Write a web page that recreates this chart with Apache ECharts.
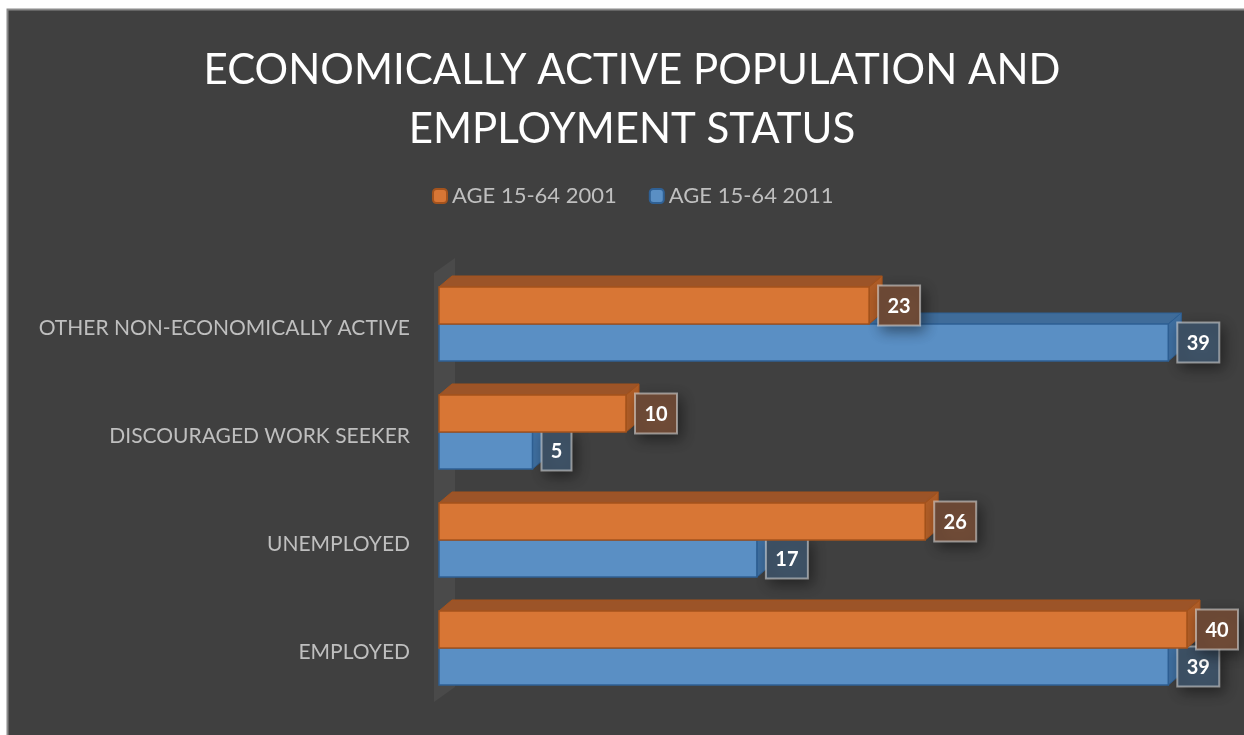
<!DOCTYPE html>
<html><head><meta charset="utf-8">
<script src="https://cdn.jsdelivr.net/npm/echarts@6/dist/echarts.min.js"></script>
<style>html,body{margin:0;padding:0;background:#fff}#c{width:1244px;height:735px}</style>
</head><body><div id="c"></div>
<script>
const categories = ['EMPLOYED', 'UNEMPLOYED', 'DISCOURAGED WORK SEEKER', 'OTHER NON-ECONOMICALLY ACTIVE'];
const seriesNames = ['AGE 15-64 2001', 'AGE 15-64 2011'];
const values2001 = [40, 26, 10, 23];
const values2011 = [39, 17, 5, 39];
const titleText = 'ECONOMICALLY ACTIVE POPULATION AND\nEMPLOYMENT STATUS';

const FONT = 'Lato';
const styles = [
  {front: '#d87635', top: '#9c5428', side: '#b05e28', stroke: '#a4531d', labelBg: '#6f4b37'},
  {front: '#5a8fc4', top: '#3f6c9a', side: '#3f6fa0', stroke: '#2f6094', labelBg: '#3e5266'}
];
const BAR_H = 37, DX = 13, DY = 11;

function makeRender(sIdx) {
  return function (params, api) {
    const cat = api.value(0);
    const val = api.value(1);
    const c = api.coord([0, cat]);
    const e = api.coord([val, cat]);
    const st = styles[sIdx];
    const x0 = c[0], x1 = e[0];
    const y0 = sIdx === 0 ? c[1] - BAR_H : c[1];
    const y1 = y0 + BAR_H;
    const children = [];
    if (sIdx === 1 && params.dataIndex === 0) {
      const cs = params.coordSys;
      const wx = cs.x - 5, wb = cs.y + cs.height, wt = cs.y + 3;
      children.push({type: 'polygon', z2: -5, shape: {points: [[wx, wb], [wx, wt], [wx + 21, wt - 15], [wx + 21, wb - 15]]},
        style: {fill: '#4a4a4a'}});
    }
    children.push({type: 'polygon', shape: {points: [[x0, y0], [x0 + DX, y0 - DY], [x1 + DX, y0 - DY], [x1, y0]]},
      style: {fill: st.top, stroke: st.stroke, lineWidth: 1}});
    children.push({type: 'polygon', shape: {points: [[x1, y0], [x1 + DX, y0 - DY], [x1 + DX, y1 - DY], [x1, y1]]},
      style: {fill: st.side, stroke: st.stroke, lineWidth: 1}});
    children.push({type: 'rect', shape: {x: x0, y: y0, width: x1 - x0, height: BAR_H},
      style: {fill: st.front, stroke: st.stroke, lineWidth: 1.5}});
    const lx = x1 + 9, cy = (y0 + y1) / 2;
    const text = String(val);
    const w = text.length > 1 ? 42 : 30;
    children.push({type: 'rect', shape: {x: lx, y: cy - 20, width: w, height: 40},
      style: {fill: st.labelBg, stroke: 'rgba(225,225,225,0.55)', lineWidth: 2, shadowBlur: 14, shadowColor: 'rgba(0,0,0,0.45)', shadowOffsetX: 4, shadowOffsetY: 5}});
    children.push({type: 'text', style: {text: text, x: lx + w / 2, y: cy + 1, align: 'center', verticalAlign: 'middle',
      fill: '#ffffff', font: 'bold 20px ' + FONT}});
    return {type: 'group', children: children};
  };
}

const chart = echarts.init(document.getElementById('c'), null, {renderer: 'canvas'});
chart.setOption({
  backgroundColor: '#ffffff',
  animation: false,
  graphic: [{type: 'rect', z: -100, shape: {x: 7.5, y: 9.5, width: 1250, height: 740},
    style: {fill: '#404040', stroke: '#8a8a8a', lineWidth: 2}}],
  title: {text: titleText, left: 627, top: 36, textAlign: 'center',
    textStyle: {color: '#ffffff', fontFamily: FONT, fontWeight: 'normal', fontSize: 42, lineHeight: 59}},
  legend: {data: seriesNames, left: 427, top: 180, itemWidth: 14, itemHeight: 14, itemGap: 32,
    textStyle: {color: '#bfbfbf', fontFamily: FONT, fontSize: 22}},
  grid: {left: 439, right: 57, top: 270, bottom: 33},
  xAxis: {type: 'value', min: 0, max: 40, show: false},
  yAxis: {type: 'category', data: categories, axisLine: {show: false}, axisTick: {show: false},
    axisLabel: {color: '#bfbfbf', fontFamily: FONT, fontSize: 21, margin: 29, verticalAlign: 'top', lineHeight: 8}},
  series: [
    {name: seriesNames[0], type: 'custom', z: 4, itemStyle: {color: styles[0].front, borderColor: '#a4531d', borderWidth: 1.5},
      renderItem: makeRender(0), encode: {x: 1, y: 0}, data: values2001.map((v, i) => [i, v])},
    {name: seriesNames[1], type: 'custom', z: 3, itemStyle: {color: styles[1].front, borderColor: '#2f6094', borderWidth: 1.5},
      renderItem: makeRender(1), encode: {x: 1, y: 0}, data: values2011.map((v, i) => [i, v])}
  ]
});
</script></body></html>
